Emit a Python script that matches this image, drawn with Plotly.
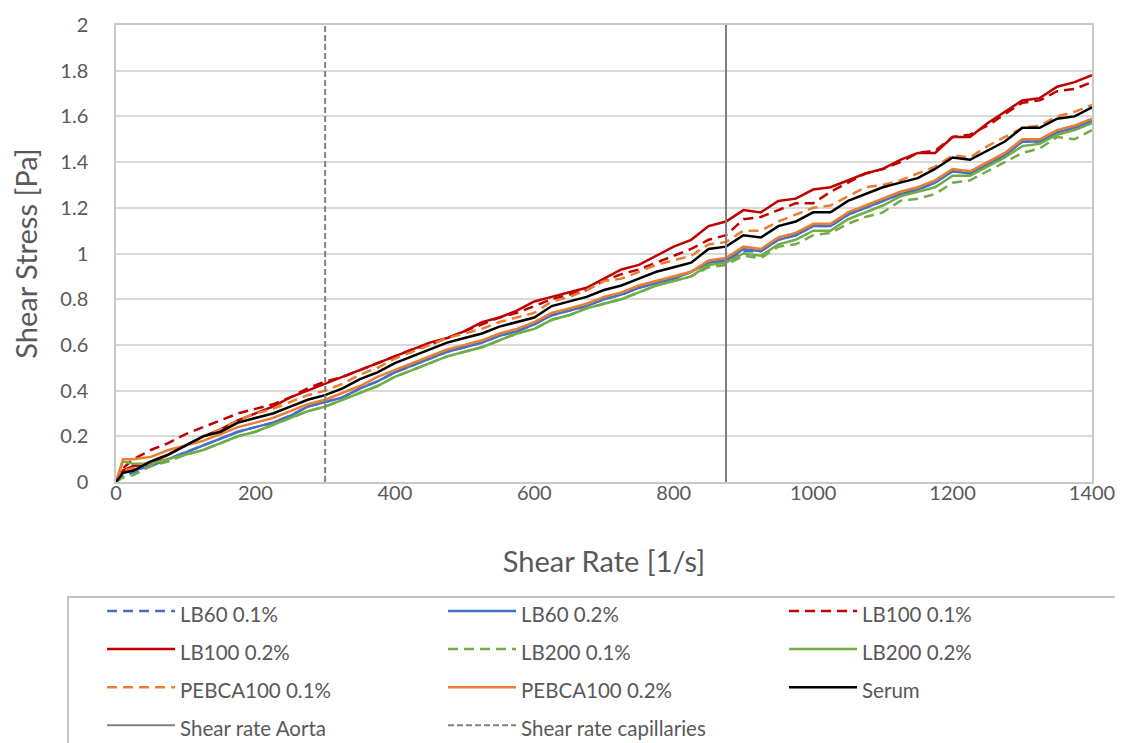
import plotly.graph_objects as go

# ---------------- data ----------------
shear_rate = [0, 10, 25, 50, 75, 100, 125, 150, 175, 200, 225, 250, 275, 300,
              325, 350, 375, 400, 425, 450, 475, 500, 525, 550, 575, 600, 625,
              650, 675, 700, 725, 750, 775, 800, 825, 850, 875, 900, 925, 950,
              975, 1000, 1025, 1050, 1075, 1100, 1125, 1150, 1175, 1200, 1225,
              1250, 1275, 1300, 1325, 1350, 1375, 1400]

lb60_01 = [0.00, 0.03, 0.04, 0.07, 0.10, 0.13, 0.16, 0.19, 0.22, 0.24, 0.26, 0.29,
           0.33, 0.35, 0.37, 0.41, 0.44, 0.48, 0.51, 0.54, 0.57, 0.59, 0.61, 0.64,
           0.66, 0.69, 0.73, 0.75, 0.77, 0.80, 0.82, 0.85, 0.87, 0.89, 0.92, 0.96,
           0.97, 1.01, 1.01, 1.06, 1.08, 1.12, 1.12, 1.17, 1.20, 1.23, 1.26, 1.28,
           1.31, 1.36, 1.35, 1.39, 1.43, 1.49, 1.49, 1.53, 1.55, 1.58]
lb60_02 = [0.00, 0.04, 0.05, 0.07, 0.10, 0.13, 0.16, 0.19, 0.22, 0.24, 0.26, 0.29,
           0.33, 0.35, 0.37, 0.41, 0.44, 0.48, 0.51, 0.54, 0.57, 0.59, 0.61, 0.64,
           0.66, 0.69, 0.73, 0.75, 0.77, 0.80, 0.82, 0.85, 0.87, 0.89, 0.92, 0.96,
           0.97, 1.02, 1.01, 1.06, 1.08, 1.12, 1.12, 1.17, 1.20, 1.23, 1.26, 1.28,
           1.31, 1.36, 1.35, 1.39, 1.43, 1.49, 1.49, 1.53, 1.55, 1.58]
lb100_01 = [0.00, 0.06, 0.10, 0.14, 0.17, 0.21, 0.24, 0.27, 0.30, 0.32, 0.34, 0.37,
            0.41, 0.44, 0.46, 0.49, 0.52, 0.55, 0.58, 0.60, 0.63, 0.66, 0.69, 0.72,
            0.74, 0.77, 0.80, 0.82, 0.84, 0.88, 0.91, 0.93, 0.96, 0.99, 1.02, 1.06,
            1.08, 1.15, 1.16, 1.19, 1.22, 1.22, 1.27, 1.31, 1.35, 1.37, 1.40, 1.44,
            1.45, 1.51, 1.52, 1.56, 1.61, 1.66, 1.67, 1.71, 1.72, 1.75]
lb100_02 = [0.00, 0.05, 0.07, 0.08, 0.12, 0.16, 0.20, 0.23, 0.27, 0.30, 0.33, 0.37,
            0.40, 0.43, 0.46, 0.49, 0.52, 0.55, 0.58, 0.61, 0.63, 0.66, 0.70, 0.72,
            0.75, 0.79, 0.81, 0.83, 0.85, 0.89, 0.93, 0.95, 0.99, 1.03, 1.06, 1.12,
            1.14, 1.19, 1.18, 1.23, 1.24, 1.28, 1.29, 1.32, 1.35, 1.37, 1.41, 1.44,
            1.44, 1.51, 1.51, 1.57, 1.62, 1.67, 1.68, 1.73, 1.75, 1.78]
lb200_01 = [0.00, 0.02, 0.03, 0.07, 0.09, 0.12, 0.14, 0.17, 0.20, 0.22, 0.25, 0.28,
            0.31, 0.33, 0.36, 0.39, 0.42, 0.46, 0.49, 0.52, 0.55, 0.57, 0.59, 0.62,
            0.65, 0.67, 0.71, 0.73, 0.76, 0.78, 0.80, 0.83, 0.86, 0.88, 0.90, 0.94,
            0.95, 0.99, 0.98, 1.03, 1.04, 1.08, 1.09, 1.13, 1.16, 1.18, 1.23, 1.24,
            1.26, 1.31, 1.32, 1.36, 1.40, 1.44, 1.46, 1.51, 1.50, 1.54]
lb200_02 = [0.00, 0.09, 0.08, 0.08, 0.10, 0.12, 0.14, 0.17, 0.20, 0.22, 0.25, 0.28,
            0.31, 0.33, 0.36, 0.39, 0.42, 0.46, 0.49, 0.52, 0.55, 0.57, 0.59, 0.62,
            0.65, 0.67, 0.71, 0.73, 0.76, 0.78, 0.80, 0.83, 0.86, 0.88, 0.90, 0.95,
            0.96, 1.00, 0.99, 1.04, 1.06, 1.10, 1.10, 1.15, 1.18, 1.21, 1.25, 1.27,
            1.29, 1.34, 1.34, 1.38, 1.42, 1.47, 1.48, 1.52, 1.54, 1.57]
pebca100_01 = [0.00, 0.05, 0.06, 0.09, 0.12, 0.16, 0.20, 0.23, 0.27, 0.30, 0.32, 0.35,
               0.38, 0.40, 0.43, 0.47, 0.50, 0.54, 0.57, 0.60, 0.63, 0.65, 0.67, 0.70,
               0.72, 0.74, 0.79, 0.81, 0.84, 0.88, 0.89, 0.92, 0.95, 0.97, 0.99, 1.04,
               1.05, 1.10, 1.10, 1.14, 1.17, 1.20, 1.21, 1.25, 1.29, 1.30, 1.32, 1.35,
               1.38, 1.43, 1.42, 1.47, 1.51, 1.55, 1.56, 1.60, 1.62, 1.65]
pebca100_02 = [0.00, 0.10, 0.10, 0.11, 0.14, 0.16, 0.18, 0.21, 0.24, 0.26, 0.28, 0.31,
               0.34, 0.36, 0.39, 0.42, 0.46, 0.49, 0.52, 0.55, 0.58, 0.60, 0.62, 0.65,
               0.67, 0.70, 0.74, 0.76, 0.78, 0.81, 0.83, 0.86, 0.88, 0.90, 0.92, 0.97,
               0.98, 1.03, 1.02, 1.07, 1.09, 1.13, 1.13, 1.18, 1.21, 1.24, 1.27, 1.29,
               1.32, 1.37, 1.36, 1.40, 1.44, 1.50, 1.50, 1.54, 1.56, 1.59]
serum = [0.00, 0.04, 0.05, 0.09, 0.12, 0.16, 0.20, 0.22, 0.26, 0.28, 0.30, 0.33,
         0.36, 0.38, 0.41, 0.45, 0.48, 0.52, 0.55, 0.58, 0.61, 0.63, 0.65, 0.68,
         0.70, 0.72, 0.77, 0.79, 0.81, 0.84, 0.86, 0.89, 0.92, 0.94, 0.96, 1.02,
         1.03, 1.08, 1.07, 1.12, 1.14, 1.18, 1.18, 1.23, 1.26, 1.29, 1.31, 1.33,
         1.37, 1.42, 1.41, 1.45, 1.49, 1.55, 1.55, 1.59, 1.60, 1.64]

aorta_rate = 875
capillary_rate = 300
y_limits = [0, 2]

x_ticks = [0, 200, 400, 600, 800, 1000, 1200, 1400]
y_ticks = [0, 0.2, 0.4, 0.6, 0.8, 1, 1.2, 1.4, 1.6, 1.8, 2]
y_tick_labels = ["0", "0.2", "0.4", "0.6", "0.8", "1", "1.2", "1.4", "1.6", "1.8", "2"]

# ---------------- styles ----------------
BLUE = "#4472C4"
RED = "#C00000"
GREEN = "#70AD47"
ORANGE = "#ED7D31"
GRAY = "#808080"
DASH = "10px,6px"
LW = 2.5
FONT = "Lato"
TXT = "#595959"
LEG_TXT = 20.5


def leg_name(s):
    return '<span style="font-size:%spx">%s</span>' % (LEG_TXT, s)


series = [
    ("LB60 0.1%", lb60_01, BLUE, DASH),
    ("LB60 0.2%", lb60_02, BLUE, "solid"),
    ("LB100 0.1%", lb100_01, RED, DASH),
    ("LB100 0.2%", lb100_02, RED, "solid"),
    ("LB200 0.1%", lb200_01, GREEN, DASH),
    ("LB200 0.2%", lb200_02, GREEN, "solid"),
    ("PEBCA100 0.1%", pebca100_01, ORANGE, DASH),
    ("PEBCA100 0.2%", pebca100_02, ORANGE, "solid"),
    ("Serum", serum, "#000000", "solid"),
]

fig = go.Figure()
for name, vals, col, dash in series:
    fig.add_trace(go.Scatter(x=shear_rate, y=vals, mode="lines", name=leg_name(name),
                             line=dict(color=col, width=LW, dash=dash)))

fig.add_trace(go.Scatter(x=[aorta_rate, aorta_rate], y=y_limits, mode="lines",
                         name=leg_name("Shear rate Aorta"),
                         line=dict(color=GRAY, width=2, dash="solid")))
fig.add_trace(go.Scatter(x=[capillary_rate, capillary_rate], y=y_limits, mode="lines",
                         name=leg_name("Shear rate capillaries"),
                         line=dict(color=GRAY, width=2, dash="6px,3px")))

# legend frame (extends below the page edge like the reference)
fig.add_shape(type="rect", xref="paper", yref="paper",
              x0=-0.0492, x1=1.0287, y0=-0.2516, y1=-0.75,
              line=dict(color="#b0b0b0", width=1.5), fillcolor="rgba(0,0,0,0)",
              layer="below")

fig.update_layout(
    width=1115, height=735,
    margin=dict(l=108, r=31, t=17, b=261, autoexpand=False),
    paper_bgcolor="white", plot_bgcolor="white",
    font=dict(family=FONT, color=TXT),
    showlegend=True,
    legend=dict(
        orientation="h",
        x=-0.0143, xanchor="left",
        y=-0.2297, yanchor="top",
        entrywidth=258, entrywidthmode="pixels",
        itemwidth=68,
        borderwidth=0,
        font=dict(family=FONT, size=27, color=TXT),
        bgcolor="rgba(0,0,0,0)",
        traceorder="normal",
    ),
)

fig.update_xaxes(
    range=[0, 1400], tickvals=x_ticks,
    showgrid=False, zeroline=False,
    showline=True, linecolor="#c8c8c8", linewidth=1.5, mirror=True,
    ticks="", tickfont=dict(family=FONT, size=20, color=TXT),
    ticklabelstandoff=-8,
    title=dict(text="Shear Rate [1/s]", font=dict(family=FONT, size=29, color=TXT),
               standoff=49),
    automargin=False,
)
fig.update_yaxes(
    range=y_limits, tickvals=y_ticks, ticktext=y_tick_labels,
    showgrid=True, gridcolor="#d9d9d9", gridwidth=1.5, zeroline=False,
    showline=True, linecolor="#c8c8c8", linewidth=1.5, mirror=True,
    ticks="", tickfont=dict(family=FONT, size=20, color=TXT),
    ticklabelstandoff=22,
    title=dict(text="Shear Stress [Pa]", font=dict(family=FONT, size=29, color=TXT),
               standoff=16),
    automargin=False,
)

fig.write_html("out.html")
